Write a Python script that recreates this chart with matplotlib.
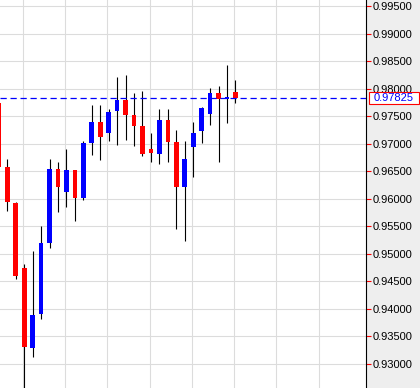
"""Candlestick chart with a current-price marker on the right axis."""

import matplotlib
matplotlib.use("Agg")
import matplotlib.pyplot as plt
from matplotlib.ticker import MultipleLocator, FormatStrFormatter
from matplotlib.patches import Rectangle

plt.rcParams["font.family"] = ["Liberation Sans", "DejaVu Sans"]

# OHLC values
opens = [0.97735, 0.96580, 0.95920, 0.94745, 0.93295, 0.93900, 0.95205, 0.96540,
         0.96130, 0.96525, 0.96020, 0.97015, 0.97395, 0.97195, 0.97595, 0.97795,
         0.97520, 0.97320, 0.96900, 0.96820, 0.97430, 0.97030, 0.96210, 0.96945,
         0.97230, 0.97545, 0.97920, 0.97815, 0.97940]
highs = [0.97760, 0.96720, 0.95940, 0.94815, 0.95050, 0.95505, 0.96720, 0.96670,
         0.96900, 0.96525, 0.97050, 0.97705, 0.97705, 0.97630, 0.98210, 0.98245,
         0.97920, 0.97955, 0.97195, 0.97630, 0.97630, 0.97250, 0.97050, 0.97395,
         0.97665, 0.98010, 0.98045, 0.98430, 0.98155]
lows = [0.96560, 0.95785, 0.94550, 0.92540, 0.93135, 0.93820, 0.95110, 0.95765,
        0.95855, 0.95600, 0.95985, 0.96795, 0.96705, 0.97050, 0.96975, 0.97065,
        0.96960, 0.96780, 0.96665, 0.96635, 0.96675, 0.95455, 0.95240, 0.96400,
        0.97020, 0.97345, 0.96665, 0.97380, 0.97745]
closes = [0.96580, 0.95935, 0.94605, 0.93315, 0.93890, 0.95200, 0.96540, 0.96215,
          0.96525, 0.96020, 0.97015, 0.97395, 0.97120, 0.97575, 0.97795, 0.97520,
          0.97320, 0.96820, 0.96835, 0.97430, 0.97035, 0.96210, 0.96720, 0.97195,
          0.97650, 0.97920, 0.97815, 0.97845, 0.97825]
last_price = 0.97825

UP = "#0000ff"
DOWN = "#ff0000"
GRID = "#dcdcdc"

fig = plt.figure(figsize=(4.2, 3.88), dpi=100)
fig.patch.set_facecolor("#eeeeee")
ax = fig.add_axes([0.0, 0.0, 366 / 420, 1.0])
ax.set_facecolor("white")

body_w = 0.55
for i, (o, h, l, c) in enumerate(zip(opens, highs, lows, closes)):
    color = UP if c >= o else DOWN
    ax.vlines(i, l, h, color="black", linewidth=0.8, zorder=3)
    lo, hi = min(o, c), max(o, c)
    ax.add_patch(Rectangle((i - body_w / 2, lo), body_w, max(hi - lo, 0.00008),
                           facecolor=color, edgecolor="none", zorder=4))

ax.axhline(last_price, color=UP, linewidth=0.9, linestyle=(0, (5, 3)), zorder=5)

ax.set_xlim(0.136, 43.45)
ax.set_ylim(0.92565, 0.996089)

# grid
ax.set_xticks([i - 0.15 for i in range(3, 40, 5)])
ax.yaxis.set_major_locator(MultipleLocator(0.005))
ax.yaxis.set_major_formatter(FormatStrFormatter("%.5f"))
ax.grid(True, color=GRID, linewidth=0.8, zorder=0)
ax.set_axisbelow(True)

ax.yaxis.tick_right()
ax.tick_params(axis="x", length=0, labelbottom=False)
ax.tick_params(axis="y", direction="out", length=3.5, width=0.8, color=DOWN,
               labelsize=8, labelcolor="black", pad=1)

for side in ("top", "bottom", "left"):
    ax.spines[side].set_visible(False)
ax.spines["right"].set_color("black")
ax.spines["right"].set_linewidth(0.8)

# price label box on the axis
fig.canvas.draw()
y_px = ax.transData.transform((0, last_price))[1]
W, H = fig.bbox.width, fig.bbox.height
box = Rectangle((369 / W, (y_px - 6) / H), 50 / W, 12 / H, transform=fig.transFigure,
                facecolor="white", edgecolor=DOWN, linewidth=0.8, zorder=10)
fig.patches.append(box)
fig.text(394 / W, y_px / H, f"{last_price:.5f}", ha="center", va="center",
         fontsize=8, color=UP, zorder=11)

fig.savefig("out.png", dpi=100)
